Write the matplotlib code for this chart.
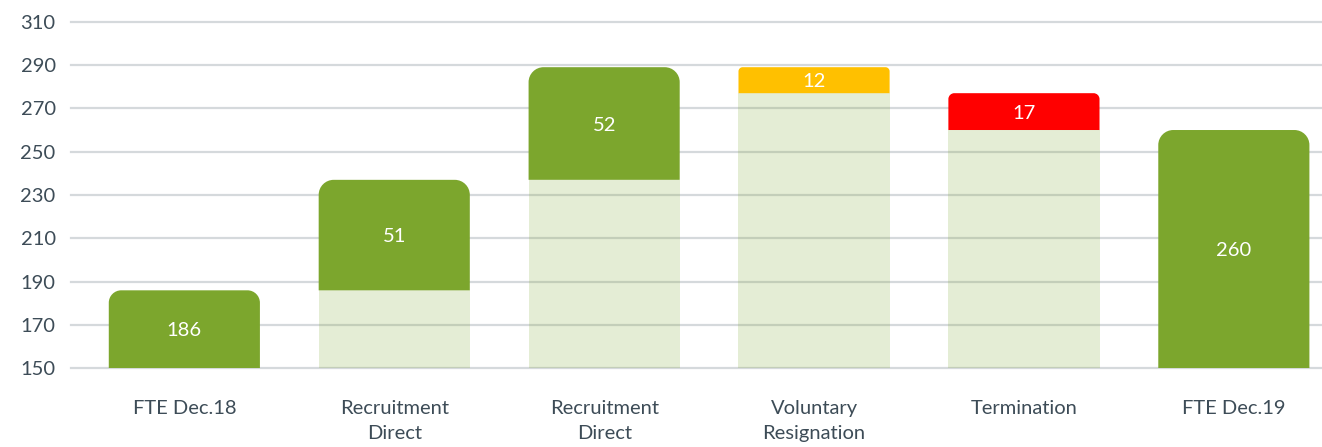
import numpy as np
import matplotlib
matplotlib.use("Agg")
from matplotlib import pyplot as plt
from matplotlib.path import Path
from matplotlib.patches import PathPatch

# data
categories = ["FTE Dec.18", "Recruitment\nDirect", "Recruitment\nDirect",
              "Voluntary\nResignation", "Termination", "FTE Dec.19"]
bases = [0, 186, 237, 277, 260, 0]      # invisible / light part
values = [186, 51, 52, 12, 17, 260]     # coloured part
yticks = [150, 170, 190, 210, 230, 250, 270, 290, 310]

green = "#7CA62D"
colors = [green, green, green, "#FFC000", "#FF0000", green]
text_c = "#3D4C57"

plt.rcParams['font.family'] = ['Lato', 'DejaVu Sans']

fig = plt.figure(figsize=(13.22, 4.47), dpi=100)
ax = fig.add_axes([71/1322, 1 - 368.3/447, 1 - 71/1322, (368.3 - 21.7)/447])
ax.set_xlim(-0.54, 5.42)
ax.set_ylim(150, 310)

x = np.arange(len(categories))
w = 0.72

# grid
for t in yticks:
    ax.axhline(t, color="#D5D9DC", lw=1.6, zorder=1, clip_on=False)

# light base bars (semi transparent, grid shows through)
ax.bar(x, bases, width=w, color=green, alpha=0.2, zorder=2, linewidth=0)

# px per data unit
fig.canvas.draw()
p0 = ax.transData.transform((0, 150))
p1 = ax.transData.transform((1, 160))
sx = p1[0] - p0[0]
sy = (p1[1] - p0[1]) / 10.0

def top_rounded(x0, x1, y0, y1, r_px):
    rx = r_px / sx
    ry = r_px / sy
    k = 0.5523
    verts = [(x0, y0), (x0, y1 - ry),
             (x0, y1 - ry + k * ry), (x0 + rx - k * rx, y1), (x0 + rx, y1),
             (x1 - rx, y1),
             (x1 - rx + k * rx, y1), (x1, y1 - ry + k * ry), (x1, y1 - ry),
             (x1, y0), (x0, y0)]
    codes = [Path.MOVETO, Path.LINETO,
             Path.CURVE4, Path.CURVE4, Path.CURVE4,
             Path.LINETO,
             Path.CURVE4, Path.CURVE4, Path.CURVE4,
             Path.LINETO, Path.CLOSEPOLY]
    return Path(verts, codes)

for i in range(len(categories)):
    y0 = bases[i]
    y1 = bases[i] + values[i]
    vis_h = (y1 - max(y0, 150)) * sy
    r = min(15, 0.16 * vis_h)
    patch = PathPatch(top_rounded(x[i] - w/2, x[i] + w/2, y0, y1, r),
                      facecolor=colors[i], edgecolor="none", zorder=3)
    ax.add_patch(patch)
    ymid = (max(y0, 150) + y1) / 2
    ax.text(x[i], ymid, str(values[i]), color="white", ha="center",
            va="center_baseline", fontsize=14.5, zorder=4)

ax.set_xticks(x)
ax.set_xticklabels(categories, color=text_c, fontsize=14.5, linespacing=1.55)
ax.set_yticks(yticks)
ax.set_yticklabels([str(t) for t in yticks], color=text_c, fontsize=14.5)
ax.tick_params(axis="both", length=0)
ax.tick_params(axis="y", pad=11)
ax.tick_params(axis="x", pad=23)
for s in ax.spines.values():
    s.set_visible(False)

fig.savefig("out.png", dpi=100)
